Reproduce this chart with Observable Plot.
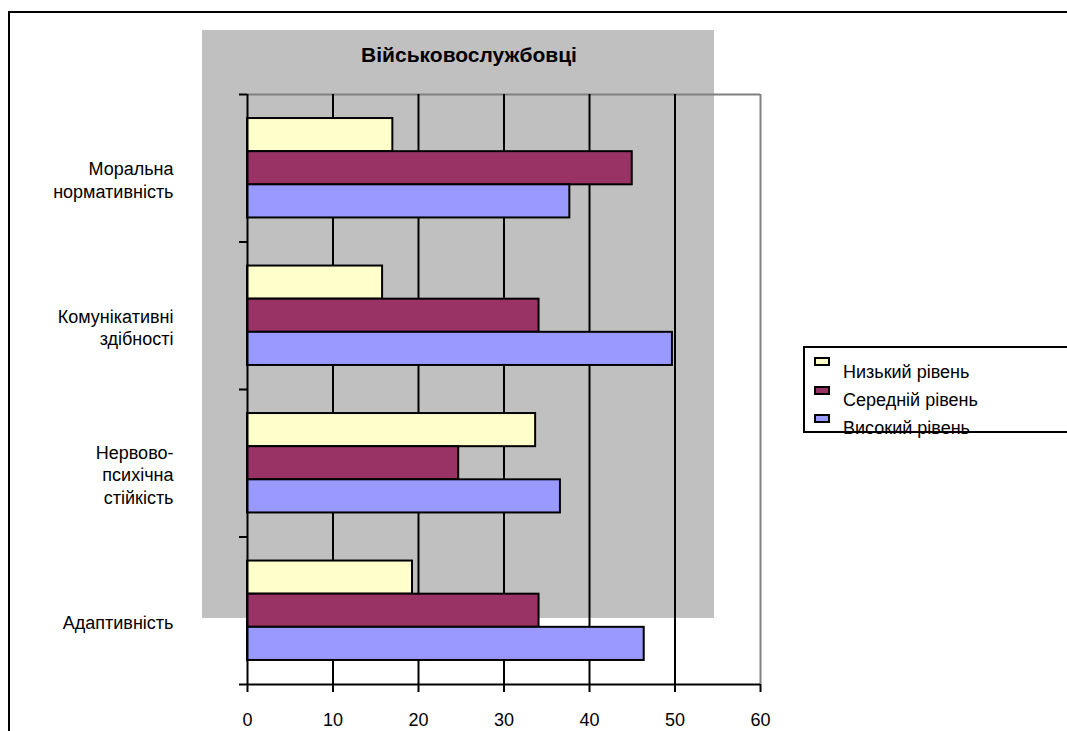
<!DOCTYPE html>
<html lang="uk">
<head>
<meta charset="utf-8">
<script src="https://cdn.jsdelivr.net/npm/d3@7"></script>
<script src="https://cdn.jsdelivr.net/npm/@observablehq/plot@0.6"></script>
<style>
  html, body { margin: 0; padding: 0; overflow: hidden; background: #fff; }
  body { width: 1067px; height: 731px; position: relative; font-family: "Liberation Sans", Arial, sans-serif; }
  #frame { position: absolute; left: 8px; top: 11px; width: 1200px; height: 900px; border: 2px solid #000; }
  #area { position: absolute; left: 202px; top: 30px; width: 512px; height: 588px; background: #c0c0c0; }
  #chart { position: absolute; left: 0; top: 0; }
  #title { position: absolute; left: 269px; top: 45px; width: 400px; text-align: center;
           font-weight: bold; font-size: 21px; line-height: 20px; color: #000; }
  #legend { position: absolute; left: 803px; top: 346px; width: 400px; height: 87px; background: #fff; }
  #legend .border { position: absolute; left: 0; top: 0; right: 0; bottom: 0; border: 2px solid #000; box-sizing: border-box; }
  #legend .sw { position: absolute; left: 11px; width: 16px; height: 9px; box-sizing: border-box; border: 2px solid #000; }
  #legend .lb { position: absolute; left: 40px; font-size: 18px; line-height: 18px; white-space: nowrap; color: #000; }
</style>
</head>
<body>
<div id="frame"></div>
<div id="area"></div>
<div id="chart"></div>
<div id="title">Військовослужбовці</div>
<div id="legend"></div>
<script>
// Categories, top to bottom
const categories = [
  "Моральна\nнормативність",
  "Комунікативні\nздібності",
  "Нервово-\nпсихічна\nстійкість",
  "Адаптивність"
];
// Series (levels), drawn top to bottom inside each category
const seriesNames = ["Низький рівень", "Середній рівень", "Високий рівень"];
const seriesColors = ["#FFFFCC", "#993366", "#9999FF"];
// Values per series, in category order
const lowValues  = [17.0, 15.8, 33.7, 19.3];
const midValues  = [45.0, 34.1, 24.7, 34.1];
const highValues = [37.7, 49.7, 36.6, 46.4];
const xTicks = [0, 10, 20, 30, 40, 50, 60];

const seriesValues = [lowValues, midValues, highValues];

// Each category occupies one unit on the vertical scale; bars fill the middle part
const pad = 0.163;
const barH = (1 - 2 * pad) / seriesNames.length;

const rows = [];
categories.forEach((c, i) => {
  seriesNames.forEach((s, j) => {
    rows.push({
      category: c,
      series: s,
      value: seriesValues[j][i],
      y1: i + pad + j * barH,
      y2: i + pad + (j + 1) * barH
    });
  });
});

const chart = Plot.plot({
  width: 1067,
  height: 731,
  marginLeft: 247,
  marginRight: 307,
  marginTop: 94,
  marginBottom: 47,
  style: { background: "transparent", fontFamily: "'Liberation Sans', Arial, sans-serif", color: "#000" },
  x: { domain: [0, 60], label: null },
  y: { domain: [0, categories.length], reverse: true, label: null },
  color: { domain: seriesNames, range: seriesColors },
  marks: [
    // plot-area outline (top and right)
    Plot.ruleY([0], { stroke: "#808080", strokeWidth: 2 }),
    Plot.ruleX([60], { stroke: "#808080", strokeWidth: 2 }),
    // vertical gridlines
    Plot.ruleX([10, 20, 30, 40, 50], { stroke: "#000", strokeWidth: 2 }),
    // bars
    Plot.rect(rows, {
      x1: 0, x2: "value", y1: "y1", y2: "y2",
      fill: "series", stroke: "#000", strokeWidth: 2
    }),
    // axis lines
    Plot.ruleX([0], { stroke: "#000", strokeWidth: 2 }),
    Plot.ruleY([categories.length], { stroke: "#000", strokeWidth: 2 }),
    // category boundary ticks
    Plot.axisY({
      ticks: d3.range(categories.length + 1),
      tickFormat: () => "",
      tickSize: 8,
      stroke: "#000",
      strokeWidth: 2,
      label: null
    }),
    // category labels
    Plot.axisY({
      ticks: categories.map((_, i) => i + 0.5),
      tickFormat: d => categories[Math.floor(d)],
      tickSize: 0,
      tickPadding: 74,
      fontSize: 18,
      lineHeight: 1.25,
      dy: 11,
      fill: "#000",
      label: null
    }),
    // value axis
    Plot.axisX({
      ticks: xTicks,
      tickSize: 8,
      tickPadding: 21,
      fontSize: 18,
      stroke: "#000",
      strokeWidth: 2,
      fill: "#000",
      label: null
    })
  ]
});
document.getElementById("chart").appendChild(chart);

// legend
const legend = document.getElementById("legend");
const swTops = [11, 40, 68];
const lbTops = [17, 45, 73];
seriesNames.forEach((s, j) => {
  const sw = document.createElement("div");
  sw.className = "sw";
  sw.style.top = swTops[j] + "px";
  sw.style.background = seriesColors[j];
  legend.appendChild(sw);
  const lb = document.createElement("div");
  lb.className = "lb";
  lb.style.top = lbTops[j] + "px";
  lb.textContent = s;
  legend.appendChild(lb);
});
const border = document.createElement("div");
border.className = "border";
legend.appendChild(border);
</script>
</body>
</html>
